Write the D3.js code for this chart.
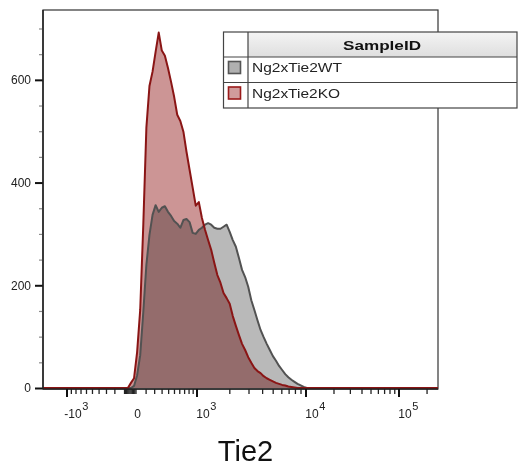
<!DOCTYPE html>
<html>
<head>
<meta charset="utf-8">
<script src="https://cdn.jsdelivr.net/npm/d3@7"></script>
<style>
  html, body { margin: 0; padding: 0; background: #fff; }
  svg { display: block; font-family: "Liberation Sans", Arial, sans-serif; }
</style>
</head>
<body>
<svg id="chart" width="518" height="467"></svg>
<script>
// Histogram bins in display channels (0–256 spans the whole Tie2 axis)
const channels = [0,
  53, 55, 57, 59, 61, 63, 65, 67, 69, 71,
  73, 75, 77, 79, 81, 83, 85, 87, 89, 91,
  93, 95, 97, 99, 101, 103, 105, 107, 109, 111,
  113, 115, 117, 119, 121, 123, 125, 127, 129, 131,
  133, 135, 137, 139, 141, 143, 145, 147, 149, 151,
  153, 155, 157, 159, 161, 163, 165, 167, 169, 171,
  173, 256];

// Event counts per channel, wild type
const wtCounts = [0,
  0, 0, 0, 4, 25, 64, 148, 240, 298, 337,
  356, 343, 351, 354, 343, 335, 325, 320, 312, 327,
  329, 323, 302, 300, 308, 312, 318, 321, 318, 312,
  310, 310, 314, 318, 304, 288, 275, 253, 230, 216,
  197, 171, 152, 132, 113, 99, 86, 74, 62, 53,
  43, 35, 27, 21, 16, 12, 8, 5, 2, 0,
  0, 0];

// Event counts per channel, knockout
const koCounts = [0,
  0, 0, 10, 19, 70, 152, 318, 507, 588, 616,
  655, 692, 657, 647, 623, 596, 567, 532, 520, 499,
  460, 425, 390, 355, 362, 331, 308, 288, 269, 244,
  220, 205, 185, 175, 164, 140, 121, 103, 86, 74,
  60, 49, 39, 33, 29, 23, 19, 16, 13, 10,
  8, 6, 5, 3, 2, 1, 0, 0, 0, 0,
  0, 0];

const sampleNames = ["Ng2xTie2WT", "Ng2xTie2KO"];
const legendTitle = "SampleID";
const axisTitle = "Tie2";

const yMajorTicks = [0, 200, 400, 600];
const yMinorTicks = [50, 100, 150, 250, 300, 350, 450, 500, 550, 650, 700];

const xLabelValues = [-1000, 0, 1000, 10000, 100000];
const xLabelBases = ["-10", "0", "10", "10", "10"];
const xLabelExps = ["3", "", "3", "4", "5"];
const xMajorTicks = [-1000, 1000, 10000, 100000];
const xMinorTicks = [
  -900, -800, -700, -600, -500, -400, -300, -200, -100,
  -90, -80, -70, -60, -50, -40, -30, -20, -10, 0,
  100, 200, 300, 400, 500, 600, 700, 800, 900,
  2000, 3000, 4000, 5000, 6000, 7000, 8000, 9000,
  20000, 30000, 40000, 50000, 60000, 70000, 80000, 90000,
  200000];

// ---- layout ----
const svg = d3.select("#chart");
const plotL = 43, plotR = 438, plotT = 10, plotB = 389;
const plotW = plotR - plotL;

// channel space -> pixels
const xChan = d3.scaleLinear().domain([0, 256]).range([plotL, plotR]);
const y = d3.scaleLinear().domain([0, 736]).range([plotB - 1, plotT]);

// biexponential display of Tie2 values: near-linear around zero, log above 10^3
const frac = f => plotL + f * plotW;
const xLow = d3.scaleSymlog().constant(500)
  .domain([-1000, 0, 1000]).range([frac(0.0608), frac(0.2354), frac(0.3899)]);
const xHigh = d3.scaleLog()
  .domain([1000, 10000, 100000, 262144]).range([frac(0.3899), frac(0.6658), frac(0.9013), frac(1)]);
const xVal = v => (v > 1000 ? xHigh(v) : xLow(v));

// ---- plot frame ----
svg.append("rect")
  .attr("x", plotL).attr("y", plotT)
  .attr("width", plotW).attr("height", plotB - plotT)
  .attr("fill", "none").attr("stroke", "#333").attr("stroke-width", 1.2);

// ---- histograms ----
const wtData = channels.map((c, i) => [c, wtCounts[i]]);
const koData = channels.map((c, i) => [c, koCounts[i]]);

const area = d3.area().x(d => xChan(d[0])).y0(y(0)).y1(d => y(d[1]));
const line = d3.line().x(d => xChan(d[0])).y(d => y(d[1]));

const gPlot = svg.append("g");
gPlot.append("path").datum(wtData).attr("d", area)
  .attr("fill", "#b9b9b9").style("mix-blend-mode", "multiply");
gPlot.append("path").datum(koData).attr("d", area)
  .attr("fill", "#cc9595").style("mix-blend-mode", "multiply");
gPlot.append("path").datum(wtData).attr("d", line)
  .attr("fill", "none").attr("stroke", "#525252").attr("stroke-width", 2)
  .attr("stroke-linejoin", "round");
gPlot.append("path").datum(koData).attr("d", line)
  .attr("fill", "none").attr("stroke", "#8a1515").attr("stroke-width", 2)
  .attr("stroke-linejoin", "round");

// ---- y axis ----
const yMinor = svg.append("g").attr("transform", `translate(${plotL},0)`)
  .call(d3.axisLeft(y).tickValues(yMinorTicks).tickSize(4).tickFormat(""));
yMinor.select(".domain").remove();
yMinor.selectAll(".tick line").attr("stroke", "#8a8a8a").attr("stroke-width", 1.2);

const yMajor = svg.append("g").attr("transform", `translate(${plotL},0)`)
  .call(d3.axisLeft(y).tickValues(yMajorTicks).tickSize(8).tickPadding(4).tickFormat(d3.format("d")));
yMajor.select(".domain").remove();
yMajor.selectAll(".tick line").attr("stroke", "#111").attr("stroke-width", 2);
yMajor.selectAll(".tick text")
  .attr("font-family", "Liberation Sans, Arial, sans-serif")
  .attr("font-size", 12).attr("fill", "#222");

svg.append("line")
  .attr("x1", plotL).attr("x2", plotL).attr("y1", plotT).attr("y2", plotB)
  .attr("stroke", "#222").attr("stroke-width", 1.5);

// ---- x axis ----
svg.append("line")
  .attr("x1", plotL).attr("x2", plotR).attr("y1", plotB).attr("y2", plotB)
  .attr("stroke", "#222").attr("stroke-width", 1.5);

svg.append("g").selectAll("line").data(xMinorTicks).join("line")
  .attr("x1", d => xVal(d)).attr("x2", d => xVal(d))
  .attr("y1", plotB).attr("y2", plotB + 5)
  .attr("stroke", "#222").attr("stroke-width", 1.3);

svg.append("g").selectAll("line").data(xMajorTicks).join("line")
  .attr("x1", d => xVal(d)).attr("x2", d => xVal(d))
  .attr("y1", plotB).attr("y2", plotB + 8)
  .attr("stroke", "#111").attr("stroke-width", 2);

const xLabels = svg.append("g").attr("font-size", 12).attr("fill", "#222");
xLabelValues.forEach((v, i) => {
  const cx = xVal(v) + (xLabelExps[i] ? 6 : 1.5);
  const base = xLabels.append("text")
    .attr("x", cx).attr("y", 418)
    .attr("text-anchor", "middle")
    .text(xLabelBases[i]);
  if (xLabelExps[i]) {
    const w = base.node().getComputedTextLength();
    xLabels.append("text")
      .attr("x", cx + w / 2 + 0.5).attr("y", 410)
      .attr("font-size", 11)
      .text(xLabelExps[i]);
  }
});

svg.append("text")
  .attr("x", 245.5).attr("y", 461)
  .attr("text-anchor", "middle")
  .attr("font-size", 29).attr("fill", "#111")
  .text(axisTitle);

// ---- legend table ----
const lg = svg.append("g");
const tL = 223.5, tR = 517, tSep = 248, rows = [32, 57, 82.5, 108];

const defs = svg.append("defs");
const grad = defs.append("linearGradient").attr("id", "hdr")
  .attr("x1", 0).attr("y1", 0).attr("x2", 0).attr("y2", 1);
grad.append("stop").attr("offset", "0%").attr("stop-color", "#f4f4f4");
grad.append("stop").attr("offset", "100%").attr("stop-color", "#dedede");

lg.append("rect").attr("x", tL).attr("y", rows[0])
  .attr("width", tR - tL).attr("height", rows[3] - rows[0]).attr("fill", "#fff");
lg.append("rect").attr("x", tSep).attr("y", rows[0])
  .attr("width", tR - tSep).attr("height", rows[1] - rows[0]).attr("fill", "url(#hdr)");

lg.append("rect").attr("x", tL).attr("y", rows[0])
  .attr("width", tR - tL).attr("height", rows[3] - rows[0])
  .attr("fill", "none").attr("stroke", "#444").attr("stroke-width", 1.2);
lg.selectAll("line.row").data([rows[1], rows[2]]).join("line")
  .attr("x1", tL).attr("x2", tR).attr("y1", d => d).attr("y2", d => d)
  .attr("stroke", "#444").attr("stroke-width", 1.2);
lg.append("line").attr("x1", tSep).attr("x2", tSep).attr("y1", rows[0]).attr("y2", rows[3])
  .attr("stroke", "#444").attr("stroke-width", 1.2);

lg.append("text")
  .attr("x", 343).attr("y", 50)
  .attr("font-size", 12).attr("font-weight", "bold").attr("fill", "#111")
  .attr("textLength", 78).attr("lengthAdjust", "spacingAndGlyphs")
  .text(legendTitle);

const swFill = ["#b0b0b0", "#d09c9c"];
const swStroke = ["#555", "#9a1a1a"];
const textLens = [90, 88];
sampleNames.forEach((name, i) => {
  const ry = rows[i + 1];
  lg.append("rect")
    .attr("x", 228.5).attr("y", ry + 4.5)
    .attr("width", 12).attr("height", 12)
    .attr("fill", swFill[i]).attr("stroke", swStroke[i]).attr("stroke-width", 1.6);
  lg.append("text")
    .attr("x", 252).attr("y", ry + 15)
    .attr("font-size", 12).attr("fill", "#222")
    .attr("textLength", textLens[i]).attr("lengthAdjust", "spacingAndGlyphs")
    .text(name);
});
</script>
</body>
</html>
